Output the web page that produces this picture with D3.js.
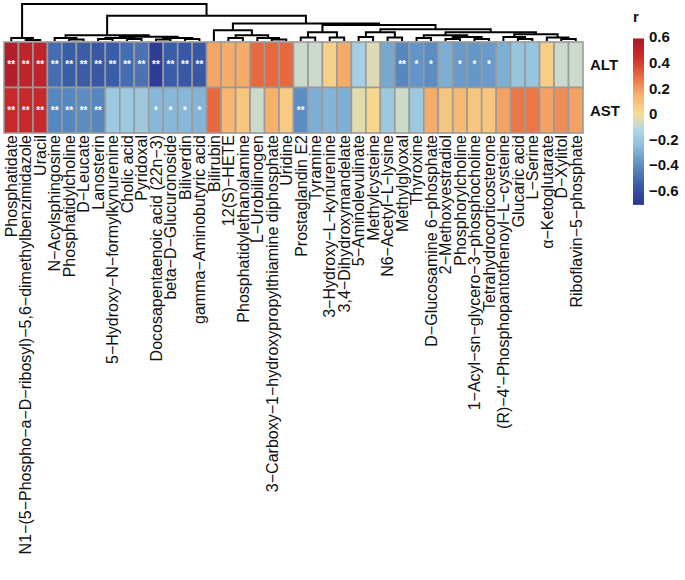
<!DOCTYPE html>
<html><head><meta charset="utf-8">
<script src="https://cdn.jsdelivr.net/npm/d3@7"></script>
<style>body{margin:0;background:#fff;} svg{display:block;font-family:"Liberation Sans",Arial,Helvetica,sans-serif;}</style>
</head><body><svg id="c" width="685" height="580"></svg>
<script>
// ---------- data ----------
const metabolites = [
 "Phosphatidate","N1−(5−Phospho−a−D−ribosyl)−5,6−dimethylbenzimidazole","Uracil",
 "N−Acylsphingosine","Phosphatidylcholine","D−Leucate","Lanosterin",
 "5−Hydroxy−N−formylkynurenine","Cholic acid","Pyridoxal","Docosapentaenoic acid (22n−3)",
 "beta−D−Glucuronoside","Biliverdin","gamma−Aminobutyric acid","Bilirubin","12(S)−HETE",
 "Phosphatidylethanolamine","L−Urobilinogen","3−Carboxy−1−hydroxypropylthiamine diphosphate",
 "Uridine","Prostaglandin E2","Tyramine","3−Hydroxy−L−kynurenine","3,4−Dihydroxymandelate",
 "5−Aminolevulinate","Methylcysteine","N6−Acetyl−L−lysine","Methylglyoxal","Thyroxine",
 "D−Glucosamine 6−phosphate","2−Methoxyestradiol","Phosphorylcholine",
 "1−Acyl−sn−glycero−3−phosphocholine","Tetrahydrocorticosterone",
 "(R)−4'−Phosphopantothenoyl−L−cysteine","Glucaric acid","L−Serine","α−Ketoglutarate",
 "D−Xylitol","Riboflavin−5−phosphate"];
const enzymes = ["ALT","AST"];
const altR = [0.55,0.50,0.50,-0.50,-0.55,-0.55,-0.57,-0.55,-0.50,-0.48,-0.68,-0.55,-0.57,-0.57,
  0.17,0.16,0.16,0.30,0.30,0.30,-0.08,-0.08,0.04,0.16,-0.17,-0.05,-0.32,-0.42,-0.38,-0.40,
  -0.30,-0.36,-0.37,-0.36,-0.30,-0.22,-0.22,0.05,-0.08,-0.08];
const astR = [0.47,0.47,0.47,-0.42,-0.42,-0.40,-0.42,-0.20,-0.20,-0.20,-0.27,-0.27,-0.27,-0.28,
  0.30,0.13,0.08,-0.08,0.15,0.06,-0.40,-0.30,-0.28,-0.30,-0.04,0.02,-0.20,-0.08,-0.20,0.16,
  0.08,0.12,0.08,0.08,0.18,0.27,0.27,0.18,0.22,0.18];
const altSig = ["**","**","**","**","**","**","**","**","**","**","**","**","**","**",
  "","","","","","","","","","","","","","**","*","*","","*","*","*","","","","","",""];
const astSig = ["**","**","**","**","**","**","**","","","","*","*","*","*",
  "","","","","","","**","","","","","","","","","","","","","","","","","","",""];
const legendTicks = [0.6,0.4,0.2,0,-0.2,-0.4,-0.6];
const legendTickLabels = ["0.6","0.4","0.2","0","−0.2","−0.4","−0.6"];
// column dendrogram: [height, left, right], leaves are column indices
const colTree = [1.0,
  [0.079, 0, [0.026, 1, 2]],
  [0.684,
    [0.158, [0.079, 3, [0.039, 4, 5]],
            [0.118, [0.079, [0.053, 6, 7], [0.053, 8, 9]], [0.079, [0.039, 10, 11], [0.053, 12, 13]]]],
    [0.474,
      [0.289, 14, [0.158, [0.079, 15, 16], [0.079, 17, [0.039, 18, 19]]]],
      [0.434,
        [0.237, [0.092, 20, 21], [0.092, 22, 23]],
        [0.316,
          [0.237, [0.105, 24, 25], [0.092, 26, 27]],
          [0.237,
            [0.158, [0.079, 28, 29], [0.105, [0.053, 30, 31], [0.053, 32, 33]]],
            [0.184, [0.105, 34, [0.053, 35, 36]], [0.092, 37, [0.053, 38, 39]]]]]]]]];

// ---------- drawing ----------
const svg = d3.select("#c");
const values = [altR, astR];
const sigs = [altSig, astSig];

const x = d3.scaleBand().domain(d3.range(metabolites.length)).range([4, 583]);
const y = d3.scaleBand().domain(enzymes).range([42, 133]);
const vmin = -0.71, vmax = 0.59;
const stopV = [-0.71,-0.55,-0.40,-0.25,-0.12,0,0.15,0.30,0.45,0.59];
const stopC = ["#2B3590","#3A5DA8","#5B8DC2","#8EBFDD","#B5D9E6","#F7DD92","#F6B06C","#E8683F","#CC2A2A","#A81A2B"];
const color = d3.scaleLinear().domain(stopV).range(stopC).interpolate(d3.interpolateRgb).clamp(true);

// cells
const cells = [];
enzymes.forEach((e, r) => metabolites.forEach((m, c) => cells.push({r, c, e, v: values[r][c], s: sigs[r][c]})));
svg.append("g").selectAll("rect").data(cells).join("rect")
  .attr("x", d => x(d.c)).attr("y", d => y(d.e))
  .attr("width", x.bandwidth()).attr("height", y.bandwidth())
  .attr("fill", d => color(d.v)).attr("stroke", "#9a9a9a").attr("stroke-width", 1.6);
svg.append("g").selectAll("text").data(cells.filter(d => d.s)).join("text")
  .attr("x", d => x(d.c) + x.bandwidth()/2).attr("y", d => y(d.e) + y.bandwidth()/2)
  .attr("dy", "0.35em").attr("text-anchor", "middle")
  .attr("fill", "#fff").attr("font-size", 10).attr("font-weight", "bold")
  .text(d => d.s);

// dendrogram
const yT = d3.scaleLinear().domain([0, 1]).range([41, 4]);
const gT = svg.append("g").attr("fill", "none").attr("stroke", "#000").attr("stroke-width", 2);
function drawNode(n) {
  if (typeof n === "number") return {x: x(n) + x.bandwidth()/2, h: 0};
  const L = drawNode(n[1]), R = drawNode(n[2]);
  gT.append("path").attr("d", `M${L.x},${yT(L.h)}V${yT(n[0])}H${R.x}V${yT(R.h)}`);
  return {x: (L.x + R.x)/2, h: n[0]};
}
drawNode(colTree);

// column labels
svg.append("g").selectAll("text").data(metabolites).join("text")
  .attr("transform", (d, i) => `translate(${x(i) + x.bandwidth()/2},135) rotate(-90)`)
  .attr("dy", "0.36em").attr("text-anchor", "end")
  .attr("font-size", 16).attr("fill", "#111")
  .text(d => d);

// row labels
svg.append("g").selectAll("text").data(enzymes).join("text")
  .attr("x", 590).attr("y", d => y(d) + y.bandwidth()/2).attr("dy", "0.35em")
  .attr("font-size", 15).attr("font-weight", "bold").attr("fill", "#111")
  .text(d => d);

// legend
const ly = d3.scaleLinear().domain([0, 0.6]).range([114, 37.2]);
const defs = svg.append("defs");
const grad = defs.append("linearGradient").attr("id", "lg").attr("x1", 0).attr("y1", 1).attr("x2", 0).attr("y2", 0);
d3.range(0, 1.0001, 0.02).forEach(t => grad.append("stop").attr("offset", t)
  .attr("stop-color", color(vmin + t * (vmax - vmin))));
svg.append("rect").attr("x", 633).attr("y", ly(vmax)).attr("width", 11)
  .attr("height", ly(vmin) - ly(vmax)).attr("fill", "url(#lg)");
svg.append("g").selectAll("text").data(legendTicks).join("text")
  .attr("x", 649).attr("y", d => ly(d)).attr("dy", "0.35em")
  .attr("font-size", 15).attr("font-weight", "bold").attr("fill", "#111")
  .text((d, i) => legendTickLabels[i]);
svg.append("text").attr("x", 633).attr("y", 22).attr("font-size", 15).attr("font-weight", "bold")
  .attr("fill", "#111").text("r");
</script></body></html>
